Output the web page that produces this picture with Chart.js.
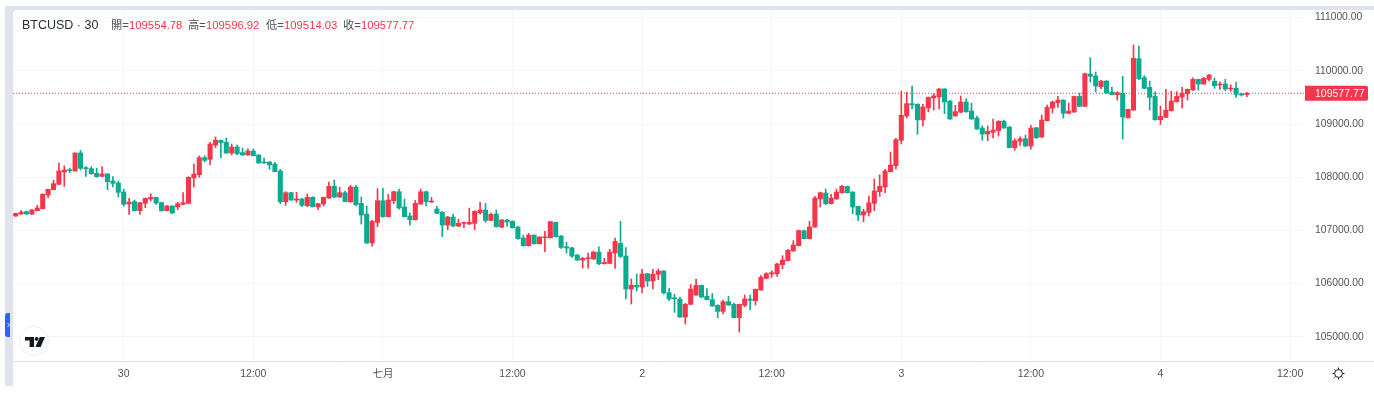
<!DOCTYPE html>
<html>
<head>
<meta charset="utf-8">
<title>BTCUSD 30</title>
<script src="https://cdn.jsdelivr.net/npm/chart.js@4"></script>
<style>
  html, body { margin: 0; background: #fff; overflow: hidden; }
  body { width: 1374px; height: 396px; position: relative; font-family: "Liberation Sans", "Noto Sans CJK TC", sans-serif; }
  #frame { position: absolute; left: 5px; top: 6px; width: 1369px; height: 380px; background: #e0e3eb; }
  #inner { position: absolute; left: 13px; top: 10px; width: 1361px; height: 376px; background: #fff; border-top-left-radius: 4px; }
  #tab { position: absolute; left: 5px; top: 313px; width: 5px; height: 24px; background: #2962ff; border-radius: 3px 0 0 3px; }
  #chart { position: absolute; left: 0; top: 0; }
  #axisRight { position: absolute; left: 1306px; top: 361px; width: 68px; height: 1px; background: #e0e3eb; }
  .h { position: absolute; top: 18px; font-size: 11.3px; line-height: 14px; color: #50535e; white-space: nowrap; }
  .v { color: #f7364b; }
  #title { left: 22px; font-size: 12.5px; color: #2a2e39; }
  #logo { position: absolute; left: 19px; top: 326px; width: 30px; height: 30px; border: 1px solid #eceef2; border-radius: 50%; background: #fff; box-sizing: border-box; }
  #logo svg { position: absolute; left: 5px; top: 10px; }
  #gear { position: absolute; left: 1332px; top: 367px; }
</style>
</head>
<body>
<div id="frame"></div>
<div id="inner"></div>
<div id="tab"><svg width="5" height="24"><path d="M2.5 10l2 2-2 2" fill="none" stroke="#fff" stroke-width="1"/></svg></div>
<canvas id="chart" width="1374" height="396"></canvas>
<div id="axisRight"></div>
<div class="h" id="title">BTCUSD · 30</div>
<div class="h" style="left:111px">開=</div><div class="h v" style="left:129px">109554.78</div>
<div class="h" style="left:188px">高=</div><div class="h v" style="left:206px">109596.92</div>
<div class="h" style="left:266px">低=</div><div class="h v" style="left:284px">109514.03</div>
<div class="h" style="left:343px">收=</div><div class="h v" style="left:361px">109577.77</div>
<div id="logo"><svg width="20" height="10" viewBox="0 0 20 10" fill="#131722"><path d="M0 0H9V10H4.6V3.6H0Z"/><circle cx="11.6" cy="1.9" r="1.9"/><path d="M14.8 0H20L15.6 10H10.4Z"/></svg></div>
<svg id="gear" width="13" height="13" viewBox="0 0 13 13" fill="none" stroke="#131722" stroke-width="1"><circle cx="6.5" cy="6.5" r="3.9"/><path d="M6.5 0.5V2.4M6.5 10.6V12.5M0.5 6.5H2.4M10.6 6.5H12.5M2.3 2.3L3.6 3.6M9.4 9.4L10.7 10.7M2.3 10.7L3.6 9.4M9.4 3.6L10.7 2.3"/></svg>
<script>
const opens = [
  107270,107308,107352,107308,107371,107408,107665,107766,107866,108098,
  108135,108117,108455,108179,108161,108073,108016,108060,107929,107891,
  107722,107496,107540,107371,107508,107590,107621,107521,107371,107458,
  107440,107490,107508,107985,108048,108367,108336,108606,108694,108656,
  108455,108568,108462,108418,108493,108418,108286,108286,108248,108117,
  107540,107709,107571,107590,107465,107621,107440,107496,107609,107828,
  107627,107709,107539,107815,107508,107307,106762,107151,107558,107257,
  107558,107727,107439,107270,107201,107495,107727,107533,107401,107339,
  107100,107251,107082,107132,107119,107132,107332,107383,107188,107307,
  107063,107195,107169,107063,106856,106712,106912,106749,106862,106862,
  107151,106894,106693,106674,106536,106442,106467,106461,106593,106373,
  106379,106574,106756,106519,105898,105967,105936,106186,106048,106174,
  106237,105829,105729,105710,105371,105610,105785,105967,105760,105697,
  105591,105478,105660,105610,105359,105591,105710,105679,105879,106099,
  106180,106186,106356,106431,106613,106713,106995,106845,107063,107590,
  107702,107502,107590,107709,107828,107721,107452,107289,107339,107508,
  107728,107815,108104,108217,108693,109151,109383,109370,109076,109301,
  109489,109508,109659,109433,109151,109220,109414,109245,109113,108925,
  108812,108844,108875,109051,108944,108555,108673,108723,108585,108930,
  108755,109062,109300,109400,109450,109200,109225,109519,109331,109939,
  109902,109701,109808,109601,109551,109576,109118,109262,110228,109871,
  109689,109519,109080,109124,109250,109419,109507,109570,109639,109839,
  109751,109839,109802,109733,109751,109657,109670,109563,109554.78
];
const highs = [
  107327,107371,107364,107396,107471,107690,107778,107941,108267,108217,
  108173,108460,108505,108198,108198,108167,108198,108073,108010,107929,
  107772,107603,107571,107527,107610,107690,107627,107534,107471,107465,
  107527,107709,108010,108248,108399,108405,108656,108756,108700,108737,
  108625,108606,108549,108531,108531,108425,108361,108292,108280,108148,
  107728,107715,107715,107603,107684,107634,107508,107627,107910,107947,
  107809,107740,107847,107847,107627,107458,107188,107784,107790,107677,
  107740,107778,107590,107332,107564,107778,107740,107621,107452,107358,
  107264,107307,107213,107157,107420,107370,107527,107508,107326,107383,
  107207,107207,107182,107082,106906,106944,106918,106881,106981,107169,
  107157,106906,106781,106680,106549,106492,106574,106611,106693,106473,
  106643,106856,107169,106675,106086,106180,106268,106193,106268,106274,
  106243,105911,105798,105748,105628,105986,106086,105973,105904,105816,
  105603,105691,105760,105635,105616,105785,105785,105898,106149,106205,
  106243,106381,106525,106644,106807,107008,107008,107171,107640,107722,
  107778,107677,107778,107847,107834,107727,107458,107401,107646,107966,
  108047,108148,108474,108731,109621,109596,109715,109383,109370,109508,
  109571,109665,109665,109439,109351,109527,109471,109389,109151,108963,
  108963,109094,109063,109076,108950,108724,108761,108792,108974,108936,
  109168,109356,109432,109519,109456,109394,109525,109582,109958,110247,
  109977,109815,109815,109695,109607,109896,109281,110485,110466,109908,
  109808,109607,109338,109651,109620,109607,109689,109657,109870,109845,
  109877,109933,109864,109795,109839,109739,109789,109582,109596.92
];
const lows = [
  107265,107302,107302,107295,107364,107402,107615,107759,107860,107828,
  108085,108112,108135,108016,108054,107998,108010,107766,107816,107628,
  107458,107302,107364,107302,107427,107552,107490,107358,107364,107314,
  107389,107477,107502,107816,107998,108286,108236,108556,108367,108449,
  108418,108418,108411,108411,108399,108261,108261,108148,108098,107502,
  107471,107565,107527,107446,107446,107440,107389,107458,107603,107615,
  107621,107533,107527,107458,107119,106756,106705,107069,107251,107251,
  107502,107401,107251,107100,107195,107489,107458,107527,107314,106881,
  107013,107069,107069,107050,107113,107013,107307,107151,107182,107063,
  107050,107075,107044,106837,106705,106705,106743,106743,106599,106856,
  106875,106662,106574,106492,106436,106292,106292,106455,106354,106367,
  106373,106285,106486,105710,105616,105860,105823,105948,105898,106074,
  105804,105685,105459,105365,105240,105603,105779,105735,105691,105572,
  105359,105428,105591,105353,105089,105566,105503,105597,105873,106092,
  106117,106136,106274,106425,106607,106707,106839,106839,107057,107439,
  107483,107496,107583,107702,107702,107314,107182,107163,107270,107370,
  107640,107709,108098,108154,108624,109113,109283,108806,108963,109226,
  109264,109283,109195,109088,109145,109214,109220,109088,108900,108693,
  108687,108737,108775,108919,108549,108505,108598,108579,108529,108729,
  108748,109056,109206,109312,109112,109193,109219,109325,109325,109789,
  109601,109664,109576,109545,109450,108717,109112,109256,109833,109664,
  109262,109074,108993,109118,109243,109413,109300,109450,109632,109639,
  109745,109808,109670,109651,109626,109613,109501,109526,109514.03
];
const closes = [
  107320,107345,107308,107383,107421,107678,107772,107878,108117,108135,
  108123,108455,108167,108161,108067,108010,108060,107916,107885,107715,
  107490,107534,107371,107521,107603,107621,107515,107371,107458,107327,
  107502,107521,107998,108060,108367,108317,108625,108694,108650,108455,
  108568,108443,108418,108493,108405,108267,108267,108230,108104,107540,
  107709,107571,107590,107471,107621,107446,107502,107621,107828,107627,
  107709,107539,107815,107483,107289,106762,107169,107558,107257,107571,
  107727,107420,107257,107201,107508,107727,107539,107552,107320,107100,
  107251,107082,107132,107144,107151,107358,107383,107188,107301,107069,
  107195,107157,107050,106843,106712,106912,106749,106875,106875,107163,
  106881,106680,106668,106517,106442,106473,106473,106593,106373,106398,
  106593,106793,106511,105898,105967,105936,106180,106048,106180,106237,
  105823,105710,105716,105371,105610,105898,105967,105748,105697,105578,
  105478,105660,105597,105359,105610,105710,105685,105892,106117,106186,
  106205,106368,106443,106625,106726,106995,106845,107064,107608,107709,
  107502,107608,107721,107828,107709,107439,107289,107351,107521,107740,
  107828,108116,108229,108706,109163,109383,109358,109076,109320,109502,
  109527,109659,109414,109094,109232,109414,109232,109094,108906,108812,
  108862,108887,109051,108925,108555,108687,108723,108585,108924,108742,
  109074,109312,109413,109450,109200,109243,109519,109331,109946,109896,
  109714,109808,109582,109551,109588,109131,109275,110234,109852,109670,
  109501,109080,109143,109262,109432,109519,109576,109651,109839,109751,
  109858,109921,109720,109751,109657,109664,109557,109545,109577.77
];
// bar positions of the time axis labels (30-minute bars)
const tickBars = [20, 44, 68, 92, 116, 140, 164, 188, 212, 236];
const tickLabels = ["30", "12:00", "七月", "12:00", "2", "12:00", "3", "12:00", "4", "12:00"];
const priceTicks = [105000, 106000, 107000, 108000, 109000, 110000, 111000];

const upColor = "#f7364b";
const downColor = "#0bab90";
const gridColor = "#f4f5f8";
const textColor = "#50535e";
const lastClose = closes[closes.length - 1];
const xMin = -0.5;
const xMax = 238.76;

const colorOf = (ctx) => (closes[ctx.dataIndex] >= opens[ctx.dataIndex] ? upColor : downColor);

// price badge on the right axis, follows the y scale
const lastPriceBadge = {
  id: "lastPriceBadge",
  afterDraw(chart) {
    const c = chart.ctx;
    const y = chart.scales.y.getPixelForValue(lastClose);
    c.save();
    c.fillStyle = upColor;
    c.beginPath();
    c.roundRect(chart.chartArea.right, y - 7.5, 63, 15, [0, 2, 2, 0]);
    c.fill();
    c.fillStyle = "#fff";
    c.font = '10.5px "Liberation Sans"';
    c.textBaseline = "middle";
    c.fillText(lastClose.toFixed(2), chart.chartArea.right + 10, y + 0.5);
    c.restore();
  },
};

new Chart(document.getElementById("chart"), {
  type: "bar",
  data: {
    datasets: [
      {
        label: "body",
        data: opens.map((o, i) => ({ x: i, y: [o, closes[i]] })),
        backgroundColor: colorOf,
        barThickness: 4.4,
        grouped: false,
        minBarLength: 1,
      },
      {
        label: "wick",
        data: lows.map((l, i) => ({ x: i, y: [l, highs[i]] })),
        backgroundColor: colorOf,
        barThickness: 1,
        grouped: false,
      },
      {
        type: "line",
        label: "last",
        data: [{ x: xMin, y: lastClose }, { x: xMax, y: lastClose }],
        borderColor: upColor,
        borderWidth: 1,
        borderDash: [1, 2],
        pointRadius: 0,
      },
    ],
  },
  options: {
    responsive: false,
    animation: false,
    layout: { autoPadding: false, padding: { left: 13, top: 10 } },
    plugins: { legend: { display: false }, tooltip: { enabled: false } },
    scales: {
      x: {
        type: "linear",
        offset: false,
        min: xMin,
        max: xMax,
        afterBuildTicks: (axis) => {
          axis.ticks = tickBars.map((v) => ({ value: v }));
        },
        afterFit: (axis) => {
          axis.height = 35;
        },
        grid: { color: gridColor, drawTicks: false, offset: false },
        border: { color: "#e0e3eb" },
        ticks: {
          autoSkip: false,
          maxRotation: 0,
          padding: 7,
          color: textColor,
          font: { family: '"Liberation Sans", "Noto Sans CJK TC"', size: 10.5 },
          callback: (v) => tickLabels[tickBars.indexOf(v)],
        },
      },
      y: {
        position: "right",
        min: 104545,
        max: 111143,
        afterBuildTicks: (axis) => {
          axis.ticks = priceTicks.map((v) => ({ value: v }));
        },
        afterFit: (axis) => {
          axis.width = 69;
          axis.paddingTop = 0;
          axis.paddingBottom = 0;
        },
        grid: { color: gridColor, drawTicks: false },
        border: { display: false },
        ticks: {
          padding: 10,
          color: textColor,
          font: { family: '"Liberation Sans"', size: 10.3 },
          callback: (v) => v.toFixed(2),
        },
      },
    },
  },
  plugins: [lastPriceBadge],
});
</script>
</body>
</html>
